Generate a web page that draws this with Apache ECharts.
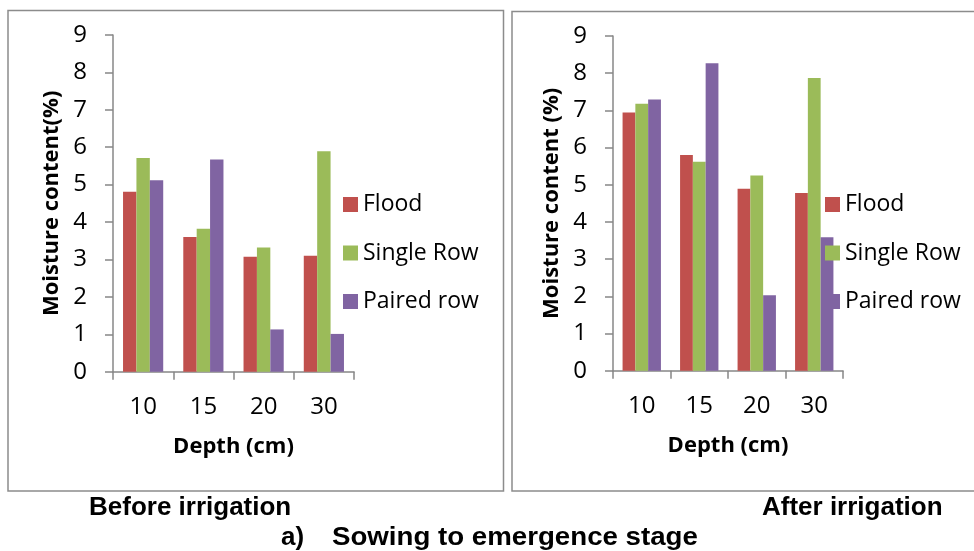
<!DOCTYPE html>
<html>
<head>
<meta charset="utf-8">
<script src="https://cdn.jsdelivr.net/npm/echarts@6/dist/echarts.min.js"></script>
<style>
html,body{margin:0;padding:0;background:#fff;}
#chart{width:974px;height:551px;}
</style>
</head>
<body>
<div id="chart"></div>
<script>
var categories = ['10', '15', '20', '30'];
var seriesNames = ['Flood', 'Single Row', 'Paired row'];
var beforeFlood = [4.81, 3.60, 3.07, 3.10];
var beforeSingle = [5.71, 3.82, 3.32, 5.89];
var beforePaired = [5.12, 5.67, 1.13, 1.01];
var afterFlood = [6.94, 5.80, 4.89, 4.78];
var afterSingle = [7.18, 5.62, 5.25, 7.87];
var afterPaired = [7.29, 8.27, 2.03, 3.59];
var yMin = 0, yMax = 9, yStep = 1;
var colors = ['#C0504D', '#9BBB59', '#8064A2'];

var axisGray = '#878787';
var labelFont = 'Open Sans';

function yAx(gridIndex, name) {
  return {
    type: 'value', gridIndex: gridIndex, min: yMin, max: yMax, interval: yStep,
    name: name, nameLocation: 'middle', nameGap: 50, nameRotate: 90,
    nameTextStyle: {fontFamily: labelFont, fontWeight: 'bold', fontSize: 22, color: '#000'},
    axisLine: {show: true, lineStyle: {color: axisGray, width: 1.5}},
    axisTick: {show: true, length: 8, lineStyle: {color: axisGray, width: 1.5}},
    axisLabel: {fontFamily: labelFont, fontSize: 24, color: '#000', margin: 26},
    splitLine: {show: false}
  };
}
function xAx(gridIndex) {
  return {
    type: 'category', gridIndex: gridIndex, data: categories,
    name: 'Depth (cm)', nameLocation: 'middle', nameGap: 64,
    nameTextStyle: {fontFamily: labelFont, fontWeight: 'bold', fontSize: 22, color: '#000'},
    axisLine: {show: true, lineStyle: {color: axisGray, width: 1.5}},
    axisTick: {show: true, length: 8, alignWithLabel: false, lineStyle: {color: axisGray, width: 1.5}},
    axisLabel: {fontFamily: labelFont, fontSize: 24, color: '#000', margin: 23},
    splitLine: {show: false}
  };
}
function bar(name, data, idx, color) {
  return {
    name: name, type: 'bar', xAxisIndex: idx, yAxisIndex: idx, data: data,
    barGap: '0%', barCategoryGap: '33.3%',
    itemStyle: {color: color}
  };
}
function legend(left) {
  return {
    orient: 'vertical', left: left, top: 188, data: seriesNames,
    icon: 'rect', itemWidth: 15, itemHeight: 15, itemGap: 25.5, itemTextGap: 3,
    textStyle: {fontFamily: labelFont, fontSize: 23, color: '#000', lineHeight: 23},
    selectedMode: false
  };
}

var chart = echarts.init(document.getElementById('chart'), null, {renderer: 'canvas'});
chart.setOption({
  animation: false,
  color: colors,
  grid: [
    {left: 113, top: 35, width: 241, height: 336.7},
    {left: 613, top: 36, width: 230, height: 334.7}
  ],
  xAxis: [xAx(0), xAx(1)],
  yAxis: [yAx(0, 'Moisture content(%)'), yAx(1, 'Moisture content (%)')],
  legend: [legend(338), legend(820)],
  series: [
    bar(seriesNames[0], beforeFlood, 0, colors[0]),
    bar(seriesNames[1], beforeSingle, 0, colors[1]),
    bar(seriesNames[2], beforePaired, 0, colors[2]),
    bar(seriesNames[0], afterFlood, 1, colors[0]),
    bar(seriesNames[1], afterSingle, 1, colors[1]),
    bar(seriesNames[2], afterPaired, 1, colors[2])
  ],
  graphic: [
    {type: 'rect', shape: {x: 8, y: 10.5, width: 495.5, height: 480.5}, style: {fill: 'none', stroke: '#8c8c8c', lineWidth: 1.5}, z: 0, silent: true},
    {type: 'rect', shape: {x: 512, y: 11.5, width: 470, height: 479.5}, style: {fill: 'none', stroke: '#8c8c8c', lineWidth: 1.5}, z: 0, silent: true},
    {type: 'text', x: 89, y: 495, style: {text: 'Before irrigation', font: 'bold 26px "Liberation Sans"', fill: '#000'}},
    {type: 'text', x: 762, y: 495, style: {text: 'After irrigation', font: 'bold 26px "Liberation Sans"', fill: '#000'}},
    {type: 'text', x: 281, y: 525, style: {text: 'a)', font: 'bold 26px "Liberation Sans"', fill: '#000'}},
    {type: 'text', x: 332, y: 525, scaleX: 1.064, style: {text: 'Sowing to emergence stage', font: 'bold 26px "Liberation Sans"', fill: '#000'}}
  ]
});
</script>
</body>
</html>
